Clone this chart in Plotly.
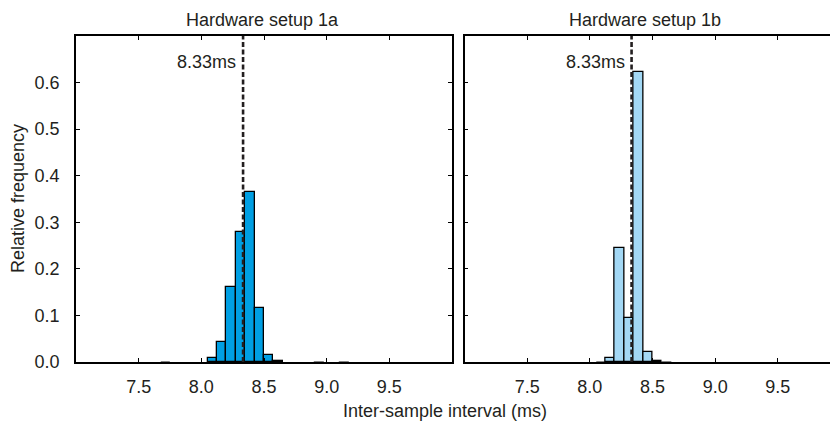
import plotly.graph_objects as go

# ---- data ----
bin_width = 0.075  # ms
setup_1a_bin_left = [7.675, 8.05, 8.125, 8.2, 8.275, 8.35, 8.425, 8.5, 8.575, 8.9, 9.1]
setup_1a_freq = [0.0003, 0.009, 0.044, 0.162, 0.280, 0.364, 0.117, 0.015, 0.002, 0.0003, 0.0003]

setup_1b_bin_left = [8.05, 8.125, 8.2, 8.275, 8.35, 8.425, 8.5, 8.575]
setup_1b_freq = [0.0003, 0.009, 0.2455, 0.0945, 0.623, 0.022, 0.003, 0.0005]

nominal_interval = 8.333
nominal_label = "8.33ms"
panel_titles = ["Hardware setup 1a", "Hardware setup 1b"]
x_ticks = [7.5, 8.0, 8.5, 9.0, 9.5]
y_ticks = [0.0, 0.1, 0.2, 0.3, 0.4, 0.5, 0.6]

# ---- style ----
W, H = 830, 425
ML, MR, MT, MB = 76, 0, 36, 63
plot_w = W - ML - MR
plot_h = H - MT - MB
px_per_ms = 376 / 3.0
left_dom = [0, 376 / plot_w]
right_start_px = 388.5
right_dom = [right_start_px / plot_w, 1]
right_xmax = 7 + (plot_w - right_start_px) / px_per_ms

ink = "#231f20"
font = dict(family="Liberation Sans, Arial, Helvetica, sans-serif", size=18, color=ink)


def outline_widths(freqs):
    # hairline outline for near-empty bins so they only thicken the baseline
    return [0.4 if f < 0.001 else 1.3 for f in freqs]


fig = go.Figure()
fig.add_trace(go.Bar(
    x=[b + bin_width / 2 for b in setup_1a_bin_left], y=setup_1a_freq,
    width=bin_width, marker=dict(color="#009fe3",
                                 line=dict(color="black", width=outline_widths(setup_1a_freq))),
    xaxis="x", yaxis="y", showlegend=False))
fig.add_trace(go.Bar(
    x=[b + bin_width / 2 for b in setup_1b_bin_left], y=setup_1b_freq,
    width=bin_width, marker=dict(color="#a3d8f5",
                                 line=dict(color="black", width=outline_widths(setup_1b_freq))),
    xaxis="x2", yaxis="y2", showlegend=False))

common_x = dict(range=[7, 10], tickvals=x_ticks, tickformat=".1f", ticks="inside", ticklen=4,
                tickwidth=1.2, tickcolor="black", showline=True, linecolor="black", linewidth=1.8,
                mirror="ticks", showgrid=False, zeroline=False, tickfont=font, ticklabelstandoff=7)
common_y = dict(range=[0, 0.7], tickvals=y_ticks, tickformat=".1f", ticks="inside", ticklen=4,
                tickwidth=1.2, tickcolor="black", showline=True, linecolor="black", linewidth=1.6,
                showgrid=False, zeroline=False, tickfont=font)

fig.update_layout(
    width=W, height=H, margin=dict(l=ML, r=MR, t=MT, b=MB),
    paper_bgcolor="white", plot_bgcolor="white", bargap=0, font=font,
    xaxis=dict(common_x, domain=left_dom, anchor="y"),
    xaxis2=dict(common_x, domain=right_dom, anchor="y2", range=[7, right_xmax]),
    yaxis=dict(common_y, anchor="x", mirror="ticks", ticklabelstandoff=11),
    yaxis2=dict(common_y, anchor="x2", mirror=False, showticklabels=False),
)

shapes = []
annotations = []
for xr, ttl, tx in [("x", panel_titles[0], 8.49), ("x2", panel_titles[1], 8.44)]:
    shapes.append(dict(type="line", xref=xr, yref="paper", x0=nominal_interval, x1=nominal_interval,
                       y0=0, y1=1, line=dict(color=ink, width=2.6, dash="5px,2.5px")))
    annotations.append(dict(xref=xr, yref="y", x=nominal_interval, y=0.645, text=nominal_label,
                            showarrow=False, xanchor="right", yanchor="middle", xshift=-5, font=font))
    annotations.append(dict(xref=xr, yref="paper", x=tx, y=1 + (MT - 20) / plot_h, text=ttl,
                            showarrow=False, xanchor="center", yanchor="middle", font=font))

annotations.append(dict(xref="paper", yref="paper", x=(445 - ML) / plot_w, y=-(411 - (H - MB)) / plot_h,
                        text="Inter-sample interval (ms)", showarrow=False, xanchor="center",
                        yanchor="middle", font=font))
annotations.append(dict(xref="paper", yref="paper", x=(18 - ML) / plot_w, y=0.5,
                        text="Relative frequency", textangle=-90, showarrow=False,
                        xanchor="center", yanchor="middle", font=font))
fig.update_layout(shapes=shapes, annotations=annotations)

fig.write_html("out.html")
